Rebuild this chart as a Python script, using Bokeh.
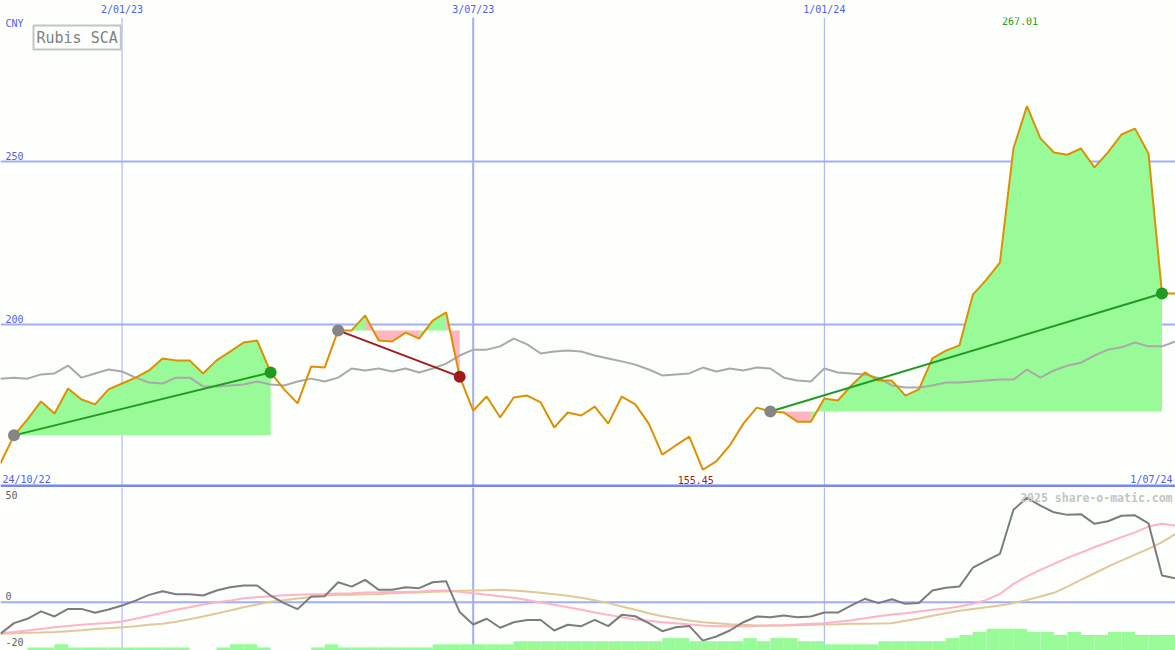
import numpy as np
import pandas as pd
from bokeh.plotting import figure
from bokeh.layouts import column
from bokeh.models import Range1d, FixedTicker, Span, Label, ColumnDataSource
from bokeh.embed import file_html
from bokeh.resources import INLINE

# ---------------- data ----------------
start_date = "2022-10-31"
n_weeks = 88

price = [157.4, 166.0, 170.9, 176.4, 172.7, 180.4, 177.0, 175.5, 180.1, 181.9,
         183.7, 185.9, 189.6, 189.0, 189.0, 185.0, 189.0, 191.7, 194.5, 195.1,
         185.3, 180.1, 175.8, 187.1, 186.8, 198.2, 198.2, 202.8, 195.1, 194.8,
         197.5, 195.7, 201.2, 203.7, 184.0, 173.6, 177.9, 171.5, 177.6, 178.2,
         176.1, 168.4, 173.0, 172.1, 174.8, 169.6, 177.9, 175.5, 169.6, 160.1,
         162.9, 165.6, 155.45, 158.0, 162.9, 169.6, 174.5, 173.3, 173.0, 170.2,
         170.2, 177.3, 176.7, 181.3, 185.3, 182.8, 182.8, 178.2, 180.1, 189.6,
         192.0, 193.6, 209.2, 213.8, 219.0, 254.0, 267.01, 257.1, 252.8, 252.1,
         254.0, 248.2, 252.8, 258.3, 260.1, 252.5, 209.5, 209.5]

compare = [183.4, 183.7, 183.4, 184.7, 185.0, 187.4, 183.7, 185.0, 186.2, 185.6,
           183.7, 182.2, 181.9, 183.7, 183.7, 181.0, 181.0, 181.3, 181.6, 182.5,
           181.6, 181.3, 182.5, 183.4, 182.5, 183.7, 186.5, 185.9, 186.5, 185.6,
           186.5, 185.3, 186.5, 188.0, 190.5, 192.3, 192.3, 193.3, 195.7, 193.9,
           191.1, 191.7, 192.0, 191.7, 190.5, 189.6, 188.7, 187.7, 186.2, 184.4,
           184.7, 185.0, 186.8, 185.6, 186.5, 185.9, 186.8, 186.5, 183.7, 182.8,
           182.5, 186.5, 185.3, 185.0, 184.7, 183.6, 181.3, 180.7, 180.7, 181.3,
           182.2, 182.2, 182.5, 182.8, 183.1, 183.1, 186.2, 183.7, 185.9, 187.4,
           188.3, 190.5, 192.3, 193.0, 194.5, 193.3, 193.3, 194.8]

momentum = [-13.7, -9.1, -7.2, -4.0, -6.2, -2.9, -2.9, -4.6, -3.2, -1.4,
            0.7, 3.2, 4.8, 3.5, 3.5, 2.9, 5.1, 6.5, 7.3, 7.3,
            2.9, -0.4, -3.0, 2.5, 2.6, 8.7, 6.8, 9.7, 5.4, 5.4,
            6.5, 6.1, 8.7, 9.1, -4.3, -9.7, -7.2, -11.1, -8.7, -7.7,
            -7.7, -12.3, -9.8, -10.4, -7.7, -10.4, -5.5, -6.1, -9.1, -12.6,
            -10.9, -10.3, -16.7, -14.9, -12.3, -8.7, -6.2, -6.5, -5.8, -6.5,
            -6.2, -4.5, -4.5, -1.4, 1.5, -0.4, 1.3, -0.7, -0.3, 5.1,
            6.3, 6.8, 15.0, 18.1, 21.0, 40.2, 45.4, 42.0, 39.1, 38.0,
            38.3, 34.1, 35.2, 37.6, 37.8, 34.3, 11.6, 10.4]

avg_fast = [-13.5, -13.0, -12.3, -11.6, -10.9, -10.3, -9.8, -9.4, -9.0, -8.4,
            -7.2, -5.9, -4.6, -3.3, -2.2, -1.0, -0.1, 0.7, 1.7, 2.2,
            2.6, 3.0, 3.3, 3.5, 3.6, 3.8, 3.9, 4.2, 4.3, 4.5,
            4.5, 4.7, 5.0, 5.1, 4.5, 3.9, 3.2, 2.6, 1.9, 1.0,
            -0.1, -1.1, -2.2, -3.3, -4.5, -5.5, -6.5, -7.5, -8.1, -8.7,
            -9.1, -9.7, -10.1, -10.4, -10.4, -10.4, -10.3, -10.1, -10.0, -9.7,
            -9.4, -9.1, -8.5, -7.8, -7.0, -6.1, -5.3, -4.8, -4.0, -3.3,
            -2.7, -1.9, -0.7, 1.0, 3.6, 8.0, 11.2, 14.1, 16.7, 19.3,
            21.6, 23.9, 26.1, 28.3, 30.4, 32.9, 34.1, 33.3]

avg_slow = [-13.7, -13.5, -13.3, -13.2, -13.0, -12.6, -12.2, -11.7, -11.3, -10.9,
            -10.4, -9.8, -9.4, -8.5, -7.4, -6.2, -4.9, -3.6, -2.2, -1.0,
            0.2, 0.9, 1.6, 2.3, 2.9, 3.2, 3.3, 3.5, 3.6, 3.9,
            4.1, 4.2, 4.5, 4.7, 5.0, 5.1, 5.2, 5.4, 5.1, 4.7,
            4.1, 3.5, 2.8, 1.9, 0.9, -0.4, -1.9, -3.3, -4.8, -6.1,
            -7.1, -8.0, -8.7, -9.1, -9.6, -9.8, -10.1, -10.1, -10.1, -10.0,
            -9.8, -9.7, -9.6, -9.4, -9.4, -9.3, -9.1, -8.1, -7.1, -5.9,
            -4.8, -3.7, -2.9, -2.2, -1.4, -0.4, 1.0, 2.5, 4.1, 6.8,
            9.7, 12.6, 15.5, 18.1, 20.7, 23.2, 26.1, 29.7]

volume_level = [0, 0, 1, 1, 2, 1, 1, 1, 1, 1,
                1, 1, 1, 1, 0, 0, 1, 2, 2, 1,
                0, 0, 0, 1, 2, 1, 1, 1, 1, 1,
                1, 1, 2, 2, 2, 2, 2, 2, 3, 3,
                3, 3, 3, 3, 3, 3, 3, 3, 3, 4,
                4, 3, 3, 3, 3, 4, 3, 4, 4, 3,
                3, 2, 2, 2, 2, 3, 3, 3, 3, 3,
                4, 5, 6, 7, 7, 7, 6, 6, 5, 6,
                5, 5, 6, 6, 5, 5, 5, 5]

trend_segments = [(1, 20), (25, 34), (57, 86)]

price_ticks = [200, 250]
osc_ticks = [0, -20]
osc_top_label = "50"
date_ticks = ["2023-01-02", "2023-07-03", "2024-01-01"]
date_tick_labels = ["2/01/23", "3/07/23", "1/01/24"]
range_labels = ["24/10/22", "1/07/24"]
currency = "CNY"
title = "Rubis SCA"
watermark = "2025 share-o-matic.com"

# ---------------- styling ----------------
BG = "#fcfffc"
GRID = "#a3adf5"
BORDER = "#7b87ee"
TXT_BLUE = "#5060ea"
ORANGE = "#de9000"
GRAY_LINE = "#a9a9a9"
FILL_UP = "#98fb98"
FILL_DN = "#ffb6c1"
TREND_UP = "#229a22"
TREND_DN = "#a01c1c"
FONT = "DejaVu Sans Mono"

W = 1175
H1 = 470
H2 = 163
Y1_LO, Y1_HI = 150.0, 294.2
Y2_LO, Y2_HI = -21.0, 49.9

dates = pd.date_range(start_date, periods=n_weeks, freq="7D")
x = (dates.asi8 // 10**6).astype(float)
week_ms = 7 * 24 * 3600 * 1000.0
tick_ms = [float(pd.Timestamp(d).value // 10**6) for d in date_ticks]
tick_widths = [1, 2, 1]

# ---------------- top panel ----------------
p1 = figure(x_axis_type="datetime", x_axis_location="above", y_axis_location=None,
            frame_width=W, frame_height=H1, min_border=0,
            x_range=Range1d(x[0], x[-1]), y_range=Range1d(Y1_LO, Y1_HI),
            output_backend="svg", toolbar_location=None,
            background_fill_color=BG, border_fill_color=BG, outline_line_color=None)
p1.grid.visible = False
ax = p1.xaxis[0]
ax.ticker = FixedTicker(ticks=tick_ms)
ax.major_label_overrides = {t: l for t, l in zip(tick_ms, date_tick_labels)}
ax.axis_line_color = None
ax.major_tick_line_color = None
ax.minor_tick_line_color = None
ax.major_tick_out = 0
ax.major_tick_in = 0
ax.minor_tick_out = 0
ax.minor_tick_in = 0
ax.major_label_standoff = 3
ax.major_label_text_font = FONT
ax.major_label_text_font_size = "10px"
ax.major_label_text_color = TXT_BLUE

for t, w in zip(tick_ms, tick_widths):
    p1.add_layout(Span(location=t, dimension="height", line_color=GRID, line_width=w, level="underlay"))
for v in price_ticks:
    p1.add_layout(Span(location=v, dimension="width", line_color=GRID, line_width=2, level="underlay"))

# fills between price and the trend start level; each interval coloured by its end point
xs_poly, ys_poly, cols = [], [], []
for s, e in trend_segments:
    base = price[s]
    run_start, run_col = s, None
    for k in range(s, e):
        c = FILL_UP if price[k + 1] >= base else FILL_DN
        if run_col is None:
            run_col = c
        if c != run_col:
            idx = list(range(run_start, k + 1))
            xs_poly.append([x[idx[0]]] + [x[i] for i in idx] + [x[idx[-1]]])
            ys_poly.append([base] + [price[i] for i in idx] + [base])
            cols.append(run_col)
            run_start, run_col = k, c
    idx = list(range(run_start, e + 1))
    xs_poly.append([x[idx[0]]] + [x[i] for i in idx] + [x[idx[-1]]])
    ys_poly.append([base] + [price[i] for i in idx] + [base])
    cols.append(run_col)
p1.patches(xs="xs", ys="ys", fill_color="c", line_color=None,
           source=ColumnDataSource(dict(xs=xs_poly, ys=ys_poly, c=cols)))

p1.line(x, compare, line_color=GRAY_LINE, line_width=2)
p1.line(x, price, line_color=ORANGE, line_width=2)

for s, e in trend_segments:
    up = price[e] >= price[s]
    c = TREND_UP if up else TREND_DN
    p1.line([x[s], x[e]], [price[s], price[e]], line_color=c, line_width=2)
    p1.scatter([x[s]], [price[s]], size=12, fill_color="#858585", line_color=None)
    p1.scatter([x[e]], [price[e]], size=12, fill_color=c, line_color=None)

# panel separator (3px, kept inside the frame)
p1.add_layout(Span(location=Y1_LO + 1.5 * (Y1_HI - Y1_LO) / H1, dimension="width",
                   line_color=BORDER, line_width=3))

for v in price_ticks:
    p1.add_layout(Label(x=5, x_units="screen", y=v, y_units="data", y_offset=2, text=str(v),
                        text_font=FONT, text_font_size="10px", text_color=TXT_BLUE,
                        text_baseline="bottom"))
p1.add_layout(Label(x=5, y=H1, x_units="screen", y_units="screen", text=currency,
                    text_font=FONT, text_font_size="10px", text_color=TXT_BLUE,
                    text_baseline="top"))
p1.add_layout(Label(x=33, y=H1 - 8, x_units="screen", y_units="screen", text=title,
                    text_font=FONT, text_font_size="15px", text_color="#808080",
                    text_baseline="top", border_line_color="#c4c4c4", border_line_width=2,
                    background_fill_color=BG, padding=3))
p1.add_layout(Label(x=2, y=3, x_units="screen", y_units="screen", text=range_labels[0],
                    text_font=FONT, text_font_size="10px", text_color=TXT_BLUE,
                    text_baseline="bottom"))
p1.add_layout(Label(x=W - 3, y=3, x_units="screen", y_units="screen", text=range_labels[1],
                    text_font=FONT, text_font_size="10px", text_color=TXT_BLUE,
                    text_baseline="bottom", text_align="right"))
kmin = int(np.argmin(price))
kmax = int(np.argmax(price))
p1.add_layout(Label(x=x[kmin], x_offset=-7, y=4, y_units="screen", text=f"{price[kmin]:.2f}",
                    text_font=FONT, text_font_size="10px", text_color=TREND_DN,
                    text_baseline="bottom", text_align="center"))
p1.add_layout(Label(x=x[kmax], x_offset=-7, y=H1 + 1, y_units="screen", text=f"{price[kmax]:.2f}",
                    text_font=FONT, text_font_size="10px", text_color=TREND_UP,
                    text_baseline="top", text_align="center"))

# ---------------- bottom panel ----------------
p2 = figure(x_axis_type="datetime", x_axis_location=None, y_axis_location=None,
            frame_width=W, frame_height=H2, min_border=0,
            x_range=p1.x_range, y_range=Range1d(Y2_LO, Y2_HI),
            output_backend="svg", toolbar_location=None,
            background_fill_color=BG, border_fill_color=BG, outline_line_color=None)
p2.grid.visible = False
for t, w in zip(tick_ms, tick_widths):
    p2.add_layout(Span(location=t, dimension="height", line_color=GRID, line_width=w, level="underlay"))
p2.add_layout(Span(location=0, dimension="width", line_color=GRID, line_width=2, level="underlay"))

bar_unit = 1.35
vl = np.array(volume_level, dtype=float)
p2.quad(left=x, right=x + week_ms, bottom=Y2_LO, top=Y2_LO + vl * bar_unit,
        fill_color=FILL_UP, line_color=None)
p2.line(x, avg_slow, line_color="#e2c898", line_width=2)
p2.line(x, avg_fast, line_color="#ffb3c6", line_width=2)
p2.line(x, momentum, line_color="#7c7c7c", line_width=2)

for v in osc_ticks:
    p2.add_layout(Label(x=5, x_units="screen", y=v, y_units="data", y_offset=2, text=str(v),
                        text_font=FONT, text_font_size="10px", text_color="#606060",
                        text_baseline="bottom"))
p2.add_layout(Label(x=5, y=H2 - 3, x_units="screen", y_units="screen", text=osc_top_label,
                    text_font=FONT, text_font_size="10px", text_color="#606060",
                    text_baseline="top"))
p2.add_layout(Label(x=W - 3, y=H2 - 3, x_units="screen", y_units="screen", text=watermark,
                    text_font=FONT, text_font_size="11.5px", text_color="#c4c4c4",
                    text_font_style="bold", text_baseline="top", text_align="right"))

layout = column(p1, p2, spacing=0)
open("out.html", "w").write(file_html(layout, INLINE))
